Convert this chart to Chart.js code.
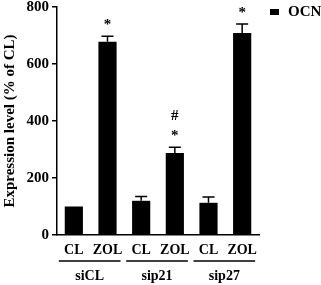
<!DOCTYPE html>
<html>
<head>
<meta charset="utf-8">
<script src="https://cdn.jsdelivr.net/npm/chart.js@4.4.1/dist/chart.umd.min.js"></script>
<style>
  html, body { margin: 0; padding: 0; background: #fff; }
  #wrap { width: 321px; height: 285px; }
</style>
</head>
<body>
<div id="wrap"><canvas id="ocnChart" width="321" height="285"></canvas></div>
<script>
// Data
const groups = ["siCL", "sip21", "sip27"];
const conditions = ["CL", "ZOL", "CL", "ZOL", "CL", "ZOL"];
const ocnValues = [100, 678, 120, 288, 113, 709];
const ocnErrors = [0, 19, 15, 20, 20, 31];
const marks = [[], ["*"], [], ["*", "#"], [], ["*"]];
const yTicks = [0, 200, 400, 600, 800];
const seriesName = "OCN";

const FONT = "'Liberation Serif', 'Times New Roman', serif";

// error bars, significance marks, group labels and legend
const extras = {
  id: "extras",
  afterDatasetsDraw(chart) {
    const ctx = chart.ctx;
    const x = chart.scales.x;
    const y = chart.scales.y;
    ctx.save();
    ctx.strokeStyle = "#000";
    ctx.fillStyle = "#000";
    ctx.lineWidth = 1.5;

    ocnValues.forEach((v, i) => {
      const cx = x.getPixelForValue(i);
      const top = y.getPixelForValue(v + ocnErrors[i]);
      if (ocnErrors[i] > 0) {
        ctx.beginPath();
        ctx.moveTo(cx, y.getPixelForValue(v));
        ctx.lineTo(cx, top);
        ctx.moveTo(cx - 6, top);
        ctx.lineTo(cx + 6, top);
        ctx.stroke();
      }
      ctx.font = "bold 15px " + FONT;
      ctx.textAlign = "center";
      ctx.textBaseline = "middle";
      marks[i].forEach((m, k) => {
        const my = top - 14 - k * 17;
        ctx.fillText(m, cx, my + (m === "*" ? 3 : 0));
      });
    });

    // group underline + label
    ctx.font = "bold 14px " + FONT;
    groups.forEach((g, gi) => {
      const x0 = x.getPixelForValue(gi * 2) - 15;
      const x1 = x.getPixelForValue(gi * 2 + 1) + 13;
      ctx.beginPath();
      ctx.moveTo(x0, 261);
      ctx.lineTo(x1, 261);
      ctx.stroke();
      ctx.fillText(g, (x0 + x1) / 2, 276);
    });

    // legend
    ctx.fillRect(270, 9, 9, 6);
    ctx.font = "bold 15px " + FONT;
    ctx.textAlign = "left";
    ctx.fillText(seriesName, 288, 12);
    ctx.restore();
  }
};

new Chart(document.getElementById("ocnChart"), {
  type: "bar",
  data: {
    labels: conditions,
    datasets: [{
      label: seriesName,
      data: ocnValues,
      backgroundColor: "#000",
      borderWidth: 0,
      barPercentage: 0.54,
      categoryPercentage: 1
    }]
  },
  options: {
    responsive: false,
    animation: false,
    layout: { padding: { top: 0, right: 62, left: 0, bottom: 0 } },
    plugins: {
      legend: { display: false },
      tooltip: { enabled: false }
    },
    scales: {
      x: {
        grid: { display: false, drawTicks: false },
        border: { display: true, color: "#000", width: 1.5 },
        ticks: {
          color: "#000",
          padding: 7,
          maxRotation: 0,
          minRotation: 0,
          autoSkip: false,
          font: { family: FONT, size: 14, weight: "bold" }
        },
        afterFit(scale) { scale.height = 50; }
      },
      y: {
        min: 0,
        max: 800,
        afterBuildTicks(scale) { scale.ticks = yTicks.map(v => ({ value: v })); },
        grid: { drawOnChartArea: false, color: "#000", lineWidth: 1.5, tickLength: 5 },
        border: { display: true, color: "#000", width: 1.5 },
        ticks: {
          color: "#000",
          padding: 3,
          font: { family: FONT, size: 15, weight: "bold" }
        },
        title: {
          display: true,
          text: "Expression level (% of CL)",
          color: "#000",
          padding: { top: 1, bottom: 0 },
          font: { family: FONT, size: 15, weight: "bold" }
        },
        afterFit(scale) {
          scale.width = 57;
          scale.paddingTop = 7;
          scale.paddingBottom = 0;
        }
      }
    }
  },
  plugins: [extras]
});
</script>
</body>
</html>
